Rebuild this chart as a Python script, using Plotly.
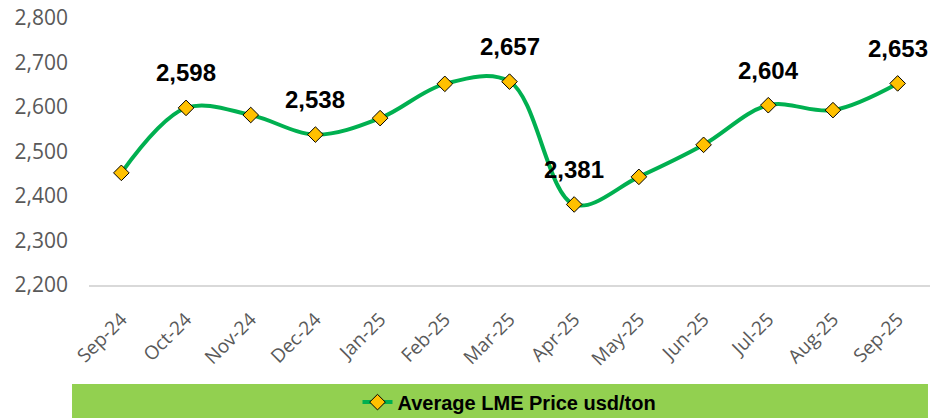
import plotly.graph_objects as go

months = ["Sep-24", "Oct-24", "Nov-24", "Dec-24", "Jan-25", "Feb-25", "Mar-25",
          "Apr-25", "May-25", "Jun-25", "Jul-25", "Aug-25", "Sep-25"]
prices = [2452, 2598, 2582, 2538, 2575, 2652, 2657, 2381, 2443, 2515, 2604, 2593, 2653]
labelled = ["Oct-24", "Dec-24", "Mar-25", "Apr-25", "Jul-25", "Sep-25"]
y_ticks = [2200, 2300, 2400, 2500, 2600, 2700, 2800]
series_name = "Average LME Price usd/ton"

tick_font = '"Open Sans", sans-serif'
bold_font = '"Liberation Sans", Arial, sans-serif'

fig = go.Figure()
fig.add_trace(go.Scatter(
    x=months, y=prices, mode="lines+markers", name=series_name,
    line=dict(color="#00B050", width=4, shape="spline", smoothing=1),
    marker=dict(symbol="diamond", size=12, color="#FFC000",
                line=dict(color="#000000", width=1)),
    cliponaxis=False,
))

for m, v in zip(months, prices):
    if m in labelled:
        fig.add_annotation(x=m, y=v, text=f"{v:,}", showarrow=False,
                           yshift=35, yanchor="middle",
                           font=dict(family=bold_font, size=24,
                                     color="#000000", weight="bold"))

fig.add_shape(type="rect", xref="paper", yref="paper",
              x0=-0.0202, x1=0.9976, y0=-0.52, y1=-0.371,
              fillcolor="#92D050", line=dict(width=0), layer="below")

fig.update_layout(
    width=944, height=418,
    margin=dict(l=89, r=14, t=18, b=133, autoexpand=False),
    paper_bgcolor="white", plot_bgcolor="white",
    showlegend=True,
    legend=dict(orientation="h", x=0.5, xanchor="center",
                yref="container", y=0.038, yanchor="middle",
                bgcolor="rgba(0,0,0,0)",
                font=dict(family=bold_font, size=20, color="#000000",
                          weight="bold")),
    xaxis=dict(type="category", range=[-0.5, 12.5], showgrid=False,
               showline=True, linecolor="#D9D9D9", linewidth=1.5,
               tickangle=-45, ticklabelstandoff=14, automargin=False,
               ticklabeloverflow="allow",
               tickfont=dict(family=tick_font, size=19, color="#595959")),
    yaxis=dict(range=[2200, 2800], tickvals=y_ticks,
               ticktext=[f"{t:,}" for t in y_ticks],
               showgrid=False, zeroline=False, showline=False,
               ticklabelstandoff=20, automargin=False,
               ticklabeloverflow="allow",
               tickfont=dict(family=tick_font, size=21, color="#595959")),
)

fig.write_html("out.html",
               config={"displayModeBar": False},
               post_script="document.body.style.margin='0';document.body.style.overflow='hidden';")
